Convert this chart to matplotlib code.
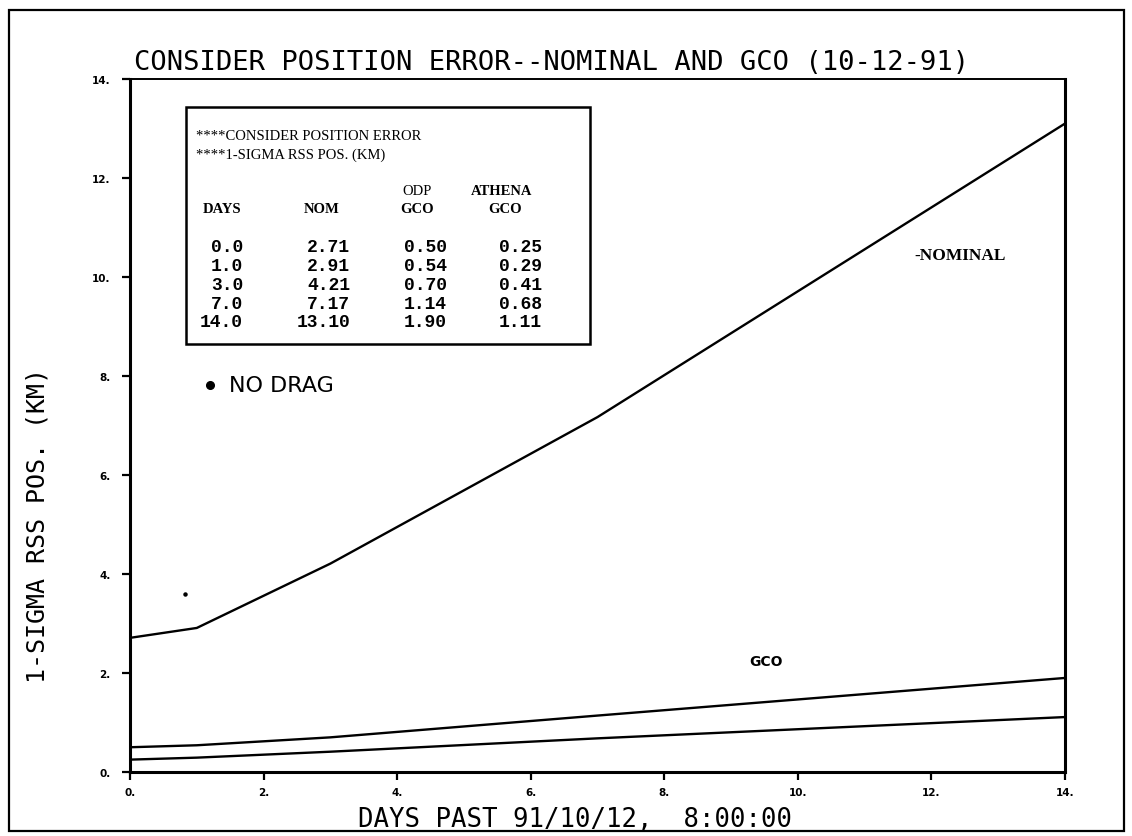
import matplotlib
matplotlib.use("Agg")
import matplotlib.pyplot as plt
from matplotlib.patches import Rectangle

days = [0.0, 1.0, 3.0, 7.0, 14.0]
nominal = [2.71, 2.91, 4.21, 7.17, 13.10]
odp_gco = [0.50, 0.54, 0.70, 1.14, 1.90]
athena_gco = [0.25, 0.29, 0.41, 0.68, 1.11]

x_ticks = [0, 2, 4, 6, 8, 10, 12, 14]
y_ticks = [0, 2, 4, 6, 8, 10, 12, 14]
x_tick_labels = ["0.", "2.", "4.", "6.", "8.", "10.", "12.", "14."]
y_tick_labels = ["0.", "2.", "4.", "6.", "8.", "10.", "12.", "14."]

title = "CONSIDER POSITION ERROR--NOMINAL AND GCO (10-12-91)"
xlabel = "DAYS PAST 91/10/12,  8:00:00"
ylabel = "1-SIGMA RSS POS. (KM)"

W, H = 1132, 837
fig = plt.figure(figsize=(W / 100, H / 100), dpi=100)
fig.patch.set_facecolor("white")


def fx(px):
    return px / W


def fy(py):
    return 1 - py / H


mono = "DejaVu Sans Mono"
serif = "Liberation Serif"
tmono = "Liberation Mono"

# outer border
fig.add_artist(Rectangle((fx(9), fy(832)), fx(1124) - fx(9), fy(11) - fy(832),
                         transform=fig.transFigure, fill=False, lw=1.6, color="black"))

ax = fig.add_axes([fx(130), fy(773), fx(1065) - fx(130), fy(80) - fy(773)])
ax.set_xlim(0, 14)
ax.set_ylim(0, 14)

for series in (nominal, odp_gco, athena_gco):
    ax.plot(days, series, color="black", lw=1.7, solid_joinstyle="round")

ax.set_xticks(x_ticks)
ax.set_xticklabels(x_tick_labels)
ax.set_yticks(y_ticks)
ax.set_yticklabels(y_tick_labels)
ax.tick_params(direction="out", length=6, width=1.6, labelsize=7.5)
ax.tick_params(axis="x", pad=5)
ax.tick_params(axis="y", pad=8)
for lab in ax.get_xticklabels() + ax.get_yticklabels():
    lab.set_fontweight("bold")
for side in ("left", "right", "bottom"):
    ax.spines[side].set_linewidth(2.2)
ax.spines["top"].set_linewidth(1.4)

# annotations inside plot
ax.text(11.75, 10.44, "-NOMINAL", fontsize=12.5, fontweight="bold", family=serif,
        ha="left", va="center")
ax.text(9.53, 2.24, "GCO", fontsize=10, fontweight="bold", family="DejaVu Sans",
        ha="center", va="center")
ax.plot([1.2], [7.82], marker="o", ms=5.5, color="black")
ax.text(1.48, 7.82, "NO DRAG", fontsize=16, family="DejaVu Sans", ha="left", va="center")
ax.plot([0.82], [3.6], marker="o", ms=2.2, color="black")

# title / axis labels
fig.text(fx(552), fy(63), title, family=mono, fontsize=19.5, ha="center", va="center")
fig.text(fx(575), fy(820), xlabel, family=mono, fontsize=18.5, ha="center", va="center")
fig.text(fx(38), fy(526), ylabel, family=mono, fontsize=18, ha="center", va="center",
         rotation=90)

# inset table box
fig.add_artist(Rectangle((fx(186), fy(345)), fx(590) - fx(186), fy(108) - fy(345),
                         transform=fig.transFigure, fill=False, lw=1.8, color="black"))
fig.text(fx(196), fy(137), "****CONSIDER POSITION ERROR", family=serif, fontsize=10.5,
         ha="left", va="center")
fig.text(fx(196), fy(155), "****1-SIGMA RSS POS. (KM)", family=serif, fontsize=10.5,
         ha="left", va="center")
fig.text(fx(417), fy(192), "ODP", family=serif, fontsize=10.5, ha="center", va="center")
fig.text(fx(502), fy(192), "ATHENA", family=serif, fontsize=10.5, fontweight="bold",
         ha="center", va="center")
for txt, cx in (("DAYS", 222), ("NOM", 322), ("GCO", 417), ("GCO", 505)):
    fig.text(fx(cx), fy(210), txt, family=serif, fontsize=10.5, fontweight="bold",
             ha="center", va="center")

row0, dy = 248, 18.7
for i in range(len(days)):
    yy = fy(row0 + i * dy)
    for val, rx, fmt in ((days[i], 243, "{:.1f}"), (nominal[i], 350, "{:.2f}"),
                         (odp_gco[i], 447, "{:.2f}"), (athena_gco[i], 542, "{:.2f}")):
        fig.text(fx(rx), yy, fmt.format(val), family=tmono, fontsize=13,
                 fontweight="bold", ha="right", va="center")

fig.savefig("out.png", dpi=100, facecolor="white")
